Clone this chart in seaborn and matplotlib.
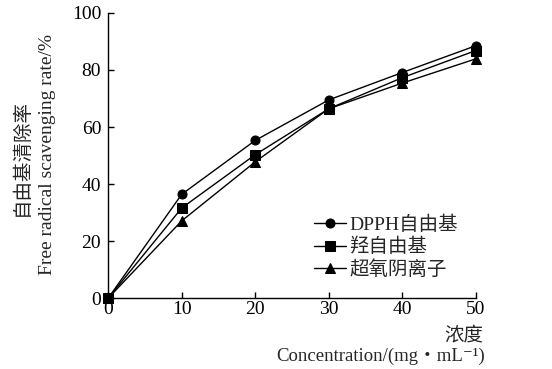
import pandas as pd
import matplotlib
matplotlib.use('Agg')
import matplotlib.pyplot as plt
import seaborn as sns

# data
conc = [0, 10, 20, 30, 40, 50]
dpph = [0, 36.4, 55.3, 69.5, 79.1, 88.5]
hydroxyl = [0, 31.6, 50.3, 66.4, 77.3, 86.8]
superoxide = [0, 27.1, 47.8, 66.4, 75.4, 83.9]
series_names = ['DPPH自由基', '羟自由基', '超氧阴离子']

sns.set_style('ticks')
plt.rcParams['font.family'] = ['Liberation Serif', 'Noto Sans CJK SC', 'DejaVu Serif']
plt.rcParams['font.size'] = 14

df = pd.DataFrame({
    'conc': conc * 3,
    'rate': dpph + hydroxyl + superoxide,
    'series': [series_names[0]] * 6 + [series_names[1]] * 6 + [series_names[2]] * 6,
})

fig = plt.figure(figsize=(5.52, 3.69), dpi=100)
ax = fig.add_axes([0.196, 0.192, 0.666, 0.773])

sns.lineplot(data=df, x='conc', y='rate', hue='series', style='series',
             palette=['black'] * 3, markers=['o', 's', '^'], dashes=False,
             markersize=6.5, linewidth=1, markeredgecolor='black',
             clip_on=False, ax=ax)

ax.set_xlim(0, 50)
ax.set_ylim(0, 100)
ax.set_xticks(conc)
ax.set_yticks([0, 20, 40, 60, 80, 100])
ax.tick_params(direction='in', length=4, width=1, colors='black', labelsize=14)
ax.tick_params(axis='y', pad=5)
ax.tick_params(axis='x', pad=2)
sns.despine(ax=ax)
for s in ['left', 'bottom']:
    ax.spines[s].set_linewidth(1)
    ax.spines[s].set_color('black')

ax.set_xlabel('')
ax.set_ylabel('')
fig.text(0.04, 0.572, '自由基清除率', rotation=90, ha='center', va='center', fontsize=14)
fig.text(0.086, 0.58, 'Free radical scavenging rate/%', rotation=90, ha='center', va='center', fontsize=14)
fig.text(0.875, 0.092, '浓度', ha='right', va='center', fontsize=14)
fig.text(0.878, 0.033, 'Concentration/(mg・mL⁻¹)', ha='right', va='center', fontsize=13.5)

leg = ax.legend(loc='lower left', bbox_to_anchor=(0.54, 0.04), frameon=False,
                handlelength=1.6, handletextpad=0.2, labelspacing=0.2,
                fontsize=14, borderaxespad=0)

fig.savefig('out.png', dpi=100)
